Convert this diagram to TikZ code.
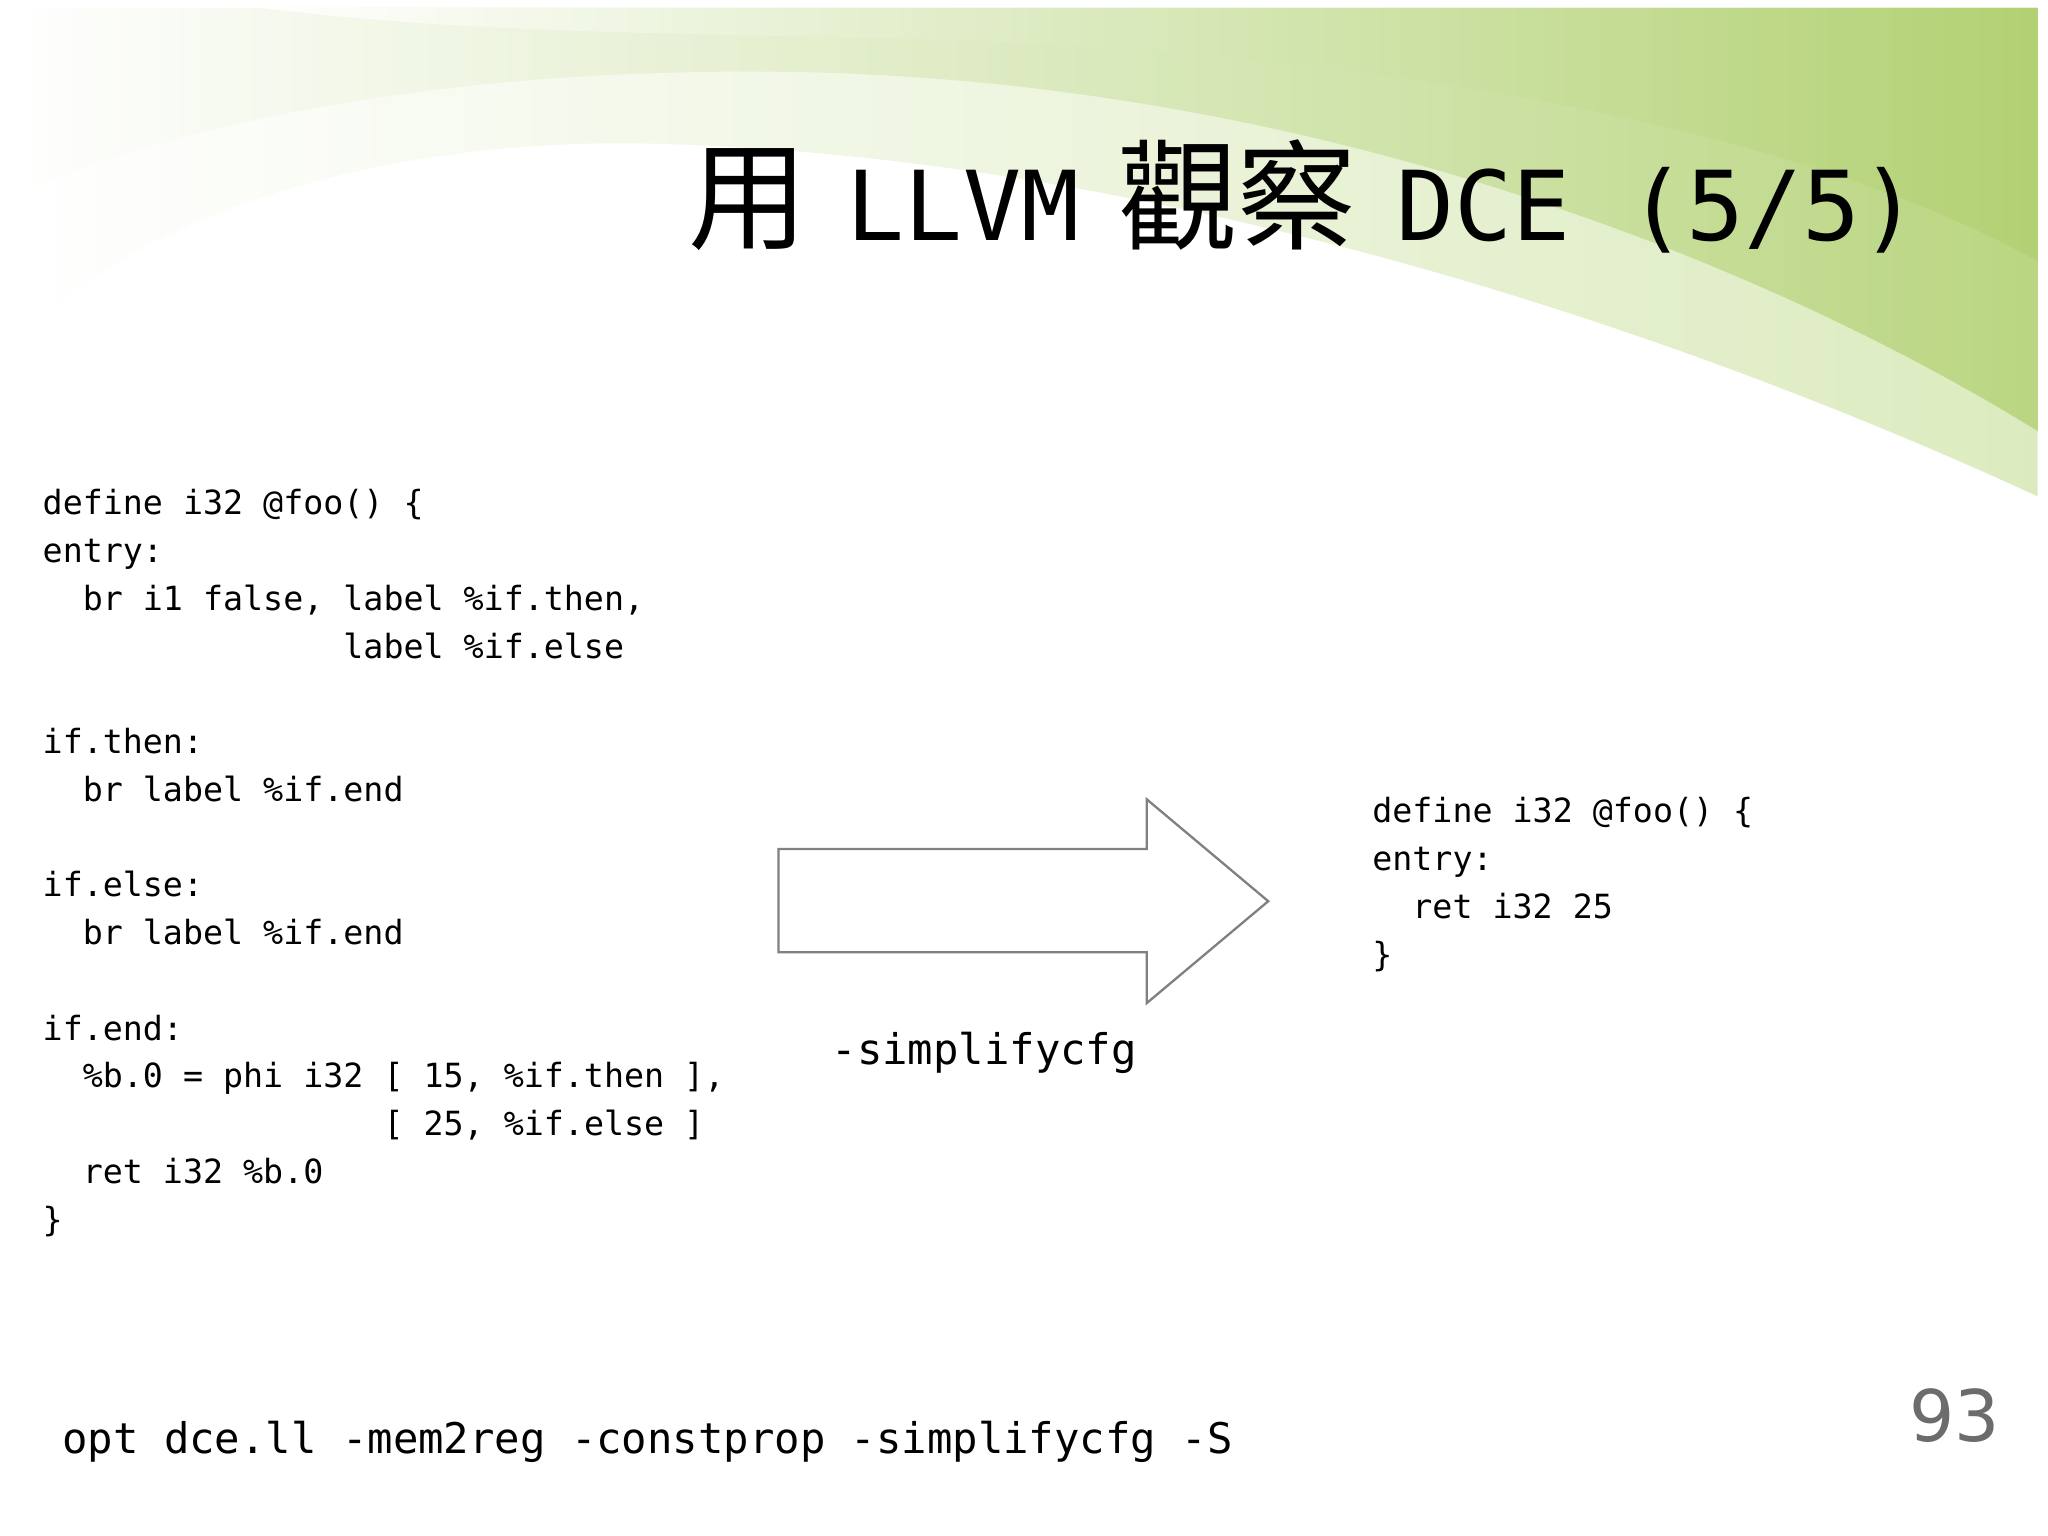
\documentclass[tikz,border=0pt]{standalone}
\usepackage{fontspec}
\setmonofont{DejaVu Sans Mono}
\newfontfamily\cjk{Noto Sans CJK TC}
\newfontfamily\pagefont{DejaVu Sans}
\usetikzlibrary{shadings}
\definecolor{leaf}{HTML}{B2D173}
\definecolor{leafl}{HTML}{DCEBBF}
\begin{document}
\begin{tikzpicture}[x=0.01cm,y=-0.01cm,
  code/.style={anchor=north west,inner sep=0pt,align=left,font=\ttfamily\fontsize{7.25pt}{10.4pt}\selectfont},
  big/.style={inner sep=0pt,font=\ttfamily\fontsize{9.2pt}{11pt}\selectfont}]
\useasboundingbox (0,0) rectangle (1568,1176);
\fill[white] (0,0) rectangle (1568,1176);
% background swooshes
\shade[left color=white,right color=leafl] (6,6) -- (1560,6) -- (1560,380) .. controls (1300,260) and (900,120) .. (500,110) .. controls (300,105) and (100,160) .. (6,270) -- cycle;
\shade[left color=white,right color=leaf,opacity=0.8] (6,6) -- (1560,6) -- (1560,330) .. controls (1350,200) and (1000,60) .. (600,55) .. controls (350,52) and (150,90) .. (6,150) -- cycle;
\shade[left color=white,right color=leaf] (200,6) -- (1560,6) -- (1560,200) .. controls (1400,110) and (1100,40) .. (700,30) .. controls (500,25) and (350,25) .. (200,6) -- cycle;
% title
\node[anchor=base east,inner sep=0pt] (title) at (1470,184)
 {{\cjk\fontsize{26pt}{30pt}\selectfont 用}\hspace{0.3cm}{\ttfamily\fontsize{21pt}{26pt}\selectfont LLVM}\hspace{0.3cm}{\cjk\fontsize{26pt}{30pt}\selectfont 觀察}\hspace{0.3cm}{\ttfamily\fontsize{21pt}{26pt}\selectfont DCE (5/5)}};
% left code
\node[code] (left) at (32,374) {define i32 @foo() \{\\
entry:\\
\ \ br i1 false, label \%if.then,\\
\ \ \ \ \ \ \ \ \ \ \ \ \ \ \ label \%if.else\\
\mbox{}\\
if.then:\\
\ \ br label \%if.end\\
\mbox{}\\
if.else:\\
\ \ br label \%if.end\\
\mbox{}\\
if.end:\\
\ \ \%b.0 = phi i32 [ 15, \%if.then ],\\
\ \ \ \ \ \ \ \ \ \ \ \ \ \ \ \ \ [ 25, \%if.else ]\\
\ \ ret i32 \%b.0\\
\}};
% right code
\node[code] (right) at (1050,610) {define i32 @foo() \{\\
entry:\\
\ \ ret i32 25\\
\}};
% arrow
\draw[gray,line width=0.5pt,fill=white] (596,650) -- (878,650) -- (878,612) -- (971,690) -- (878,768) -- (878,729) -- (596,729) -- cycle;
\node[big,anchor=base west] (flag) at (636,815) {-simplifycfg};
\node[big,anchor=base west] (cmd) at (47,1113) {opt dce.ll -mem2reg -constprop -simplifycfg -S};
\node[anchor=base east,inner sep=0pt,text=gray!85!black,font=\pagefont\fontsize{15.5pt}{18pt}\selectfont] (num) at (1532,1104) {93};
\end{tikzpicture}
\end{document}
